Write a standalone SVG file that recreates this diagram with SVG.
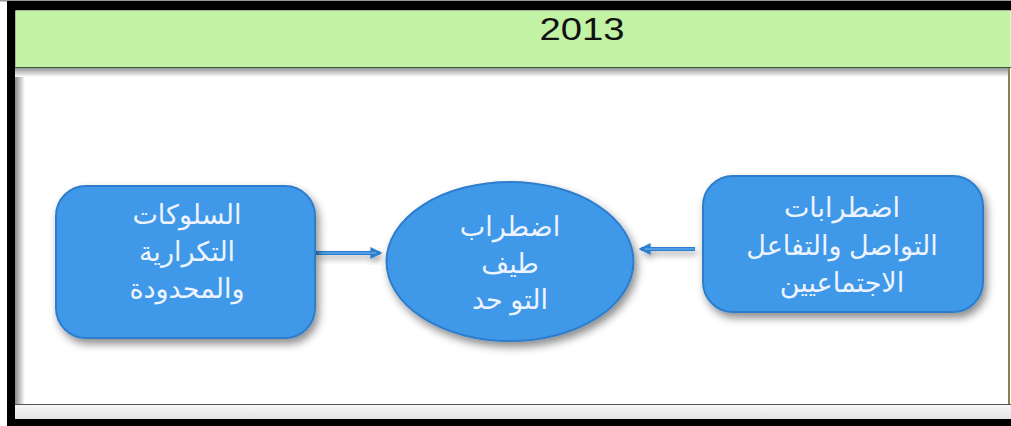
<svg xmlns="http://www.w3.org/2000/svg" width="1011" height="426" viewBox="0 0 1011 426">
<defs>
<style>
.node{fill:#4199e8;stroke:#2d7ccc;stroke-width:2;filter:url(#sh)}
.lbl{font-family:"Liberation Sans","DejaVu Sans","Noto Sans",sans-serif;font-size:27px;fill:#eef4ff;text-anchor:middle;direction:rtl}
.conn{stroke:#2f7fd0;stroke-width:4;fill:none}
.conn2{stroke:#5aa8ee;stroke-width:1.4;fill:none}
</style>
<filter id="sh" x="-20%" y="-20%" width="150%" height="150%">
<feDropShadow dx="3" dy="5" stdDeviation="4" flood-color="#000" flood-opacity="0.45"/>
</filter>
<filter id="ash" x="-20%" y="-200%" width="150%" height="600%">
<feDropShadow dx="2" dy="4" stdDeviation="3" flood-color="#000" flood-opacity="0.35"/>
</filter>
<linearGradient id="hs" x1="0" y1="0" x2="0" y2="1">
<stop offset="0" stop-color="#8a8a8a"/>
<stop offset="1" stop-color="#ffffff"/>
</linearGradient>
<linearGradient id="ls" x1="0" y1="0" x2="1" y2="0">
<stop offset="0" stop-color="#8a8a8a"/>
<stop offset="1" stop-color="#ffffff"/>
</linearGradient>
<linearGradient id="bb" x1="0" y1="0" x2="0" y2="1">
<stop offset="0" stop-color="#f8f8f8"/>
<stop offset="1" stop-color="#e4e4e4"/>
</linearGradient>
<marker id="ah" viewBox="0 0 10 10" refX="8" refY="5" markerWidth="3" markerHeight="3" orient="auto" markerUnits="strokeWidth">
<path d="M0,0 L10,5 L0,10 Z" fill="#2f7fd0"/>
</marker>
</defs>
<rect x="0" y="0" width="1011" height="426" fill="#ffffff"/>
<g id="frame">
<rect x="0" y="0" width="1011" height="1.5" fill="#9a9a9a"/>
<rect x="7" y="1" width="1004" height="9.5" fill="#000"/>
<rect x="7" y="1" width="8.5" height="425" fill="#000"/>
<rect x="7" y="419" width="1004" height="7" fill="#000"/>
<rect x="15" y="67" width="10" height="337" fill="url(#ls)"/>
<rect x="15" y="67" width="994" height="10" fill="url(#hs)"/>
<rect x="15" y="404" width="996" height="15" fill="url(#bb)"/>
<line x1="15" y1="404.5" x2="1011" y2="404.5" stroke="#555" stroke-width="1"/>
<line x1="1009" y1="67" x2="1009" y2="404" stroke="#8c8050" stroke-width="2"/>
</g>
<g id="header">
<rect x="15.5" y="10.5" width="995" height="57" fill="#c2f2a4"/>
<line x1="15" y1="67.5" x2="1011" y2="67.5" stroke="#3c5a3c" stroke-width="1.2"/>
<text x="582" y="39.5" font-family="'Liberation Sans',Arial,sans-serif" font-size="31" fill="#111" text-anchor="middle" textLength="85" lengthAdjust="spacingAndGlyphs">2013</text>
</g>
<g id="connectors">
<g filter="url(#ash)">
<line class="conn" x1="316" y1="253" x2="380" y2="253" marker-end="url(#ah)"/>
<line class="conn" x1="695" y1="249" x2="641" y2="249" marker-end="url(#ah)"/>
</g>
<line class="conn2" x1="317" y1="253" x2="376" y2="253"/>
<line class="conn2" x1="694" y1="249" x2="645" y2="249"/>
</g>
<g id="node-left">
<rect class="node" x="56" y="186" width="259" height="152" rx="30" ry="30"/>
<text class="lbl"><tspan x="187" y="224">السلوكات</tspan><tspan x="187" y="261">التكرارية</tspan><tspan x="187" y="298">والمحدودة</tspan></text>
</g>
<g id="node-center">
<ellipse class="node" cx="510" cy="261.5" rx="123.5" ry="79.5"/>
<text class="lbl"><tspan x="510" y="236">اضطراب</tspan><tspan x="510" y="273">طيف</tspan><tspan x="510" y="309">التو حد</tspan></text>
</g>
<g id="node-right">
<rect class="node" x="703" y="176" width="280" height="136" rx="30" ry="30"/>
<text class="lbl"><tspan x="842" y="217">اضطرابات</tspan><tspan x="842" y="255">التواصل والتفاعل</tspan><tspan x="842" y="292">الاجتماعيين</tspan></text>
</g>
</svg>
